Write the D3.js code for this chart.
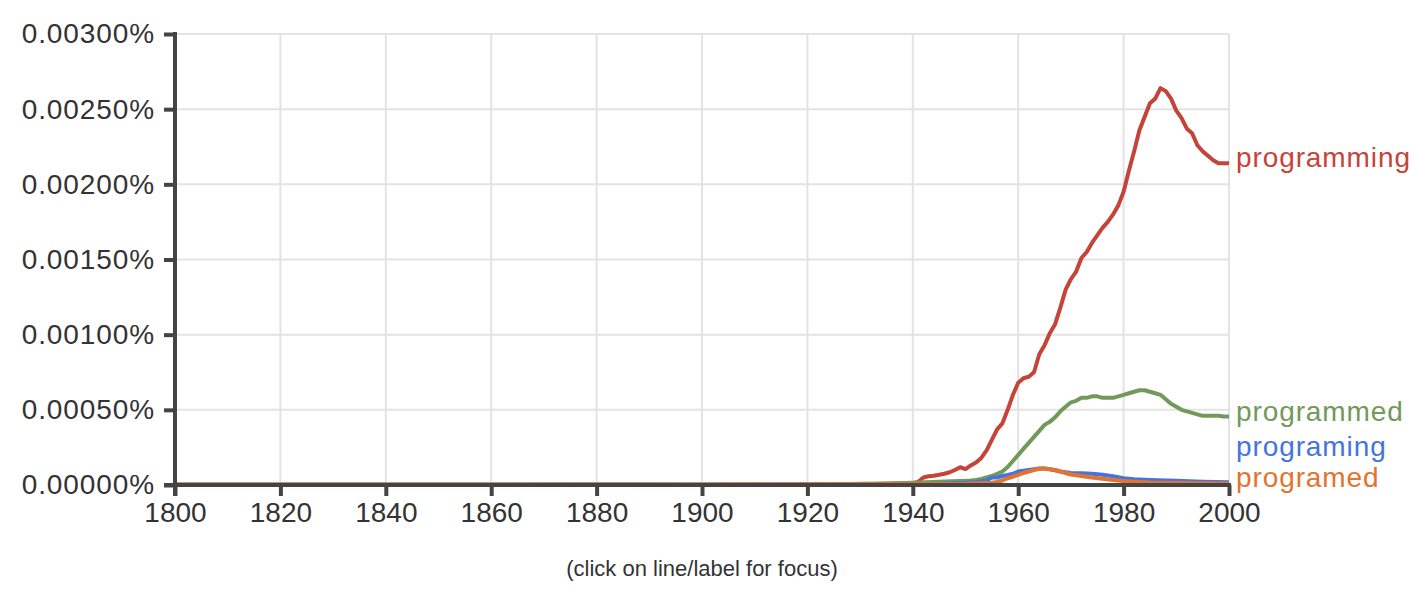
<!DOCTYPE html>
<html><head><meta charset="utf-8">
<script src="https://cdn.jsdelivr.net/npm/d3@7"></script>
<style>
body{margin:0;background:#fff;}
text{font-family:"Liberation Sans",Arial,Helvetica,sans-serif;}
</style></head>
<body><svg id="c" width="1426" height="614"></svg>
<script>
const seriesNames = ["programming","programmed","programing","programed"];
const seriesColors = ["#c5443a","#71995a","#4674dc","#e2742f"];
const xTicks = [1800,1820,1840,1860,1880,1900,1920,1940,1960,1980,2000];
const yTicks = [0,0.0005,0.001,0.0015,0.002,0.0025,0.003];
const footnote = "(click on line/label for focus)";

const programming = [[1800,0.000002],[1820,0.000002],[1840,0.000002],[1860,0.000002],[1880,0.000003],[1900,0.000002],[1920,0.000003],[1930,0.000005],[1935,0.000008],[1940,0.000012],[1941,0.00002],[1942,0.00005],[1943,0.000058],[1944,0.000062],[1945,0.000068],[1946,0.000075],[1947,0.000085],[1948,0.0001],[1949,0.000118],[1950,0.000106],[1951,0.00013],[1952,0.00015],[1953,0.00018],[1954,0.00023],[1955,0.0003],[1956,0.00037],[1957,0.00041],[1958,0.0005],[1959,0.0006],[1960,0.00068],[1961,0.00071],[1962,0.00072],[1963,0.00075],[1964,0.00087],[1965,0.00093],[1966,0.00101],[1967,0.00107],[1968,0.00118],[1969,0.0013],[1970,0.00137],[1971,0.00142],[1972,0.00151],[1973,0.00155],[1974,0.00161],[1975,0.00166],[1976,0.00171],[1977,0.00175],[1978,0.0018],[1979,0.00186],[1980,0.00195],[1981,0.00209],[1982,0.00222],[1983,0.00236],[1984,0.00245],[1985,0.00254],[1986,0.00257],[1987,0.00264],[1988,0.00262],[1989,0.00257],[1990,0.00249],[1991,0.00244],[1992,0.00237],[1993,0.00234],[1994,0.00226],[1995,0.00222],[1996,0.00219],[1997,0.00216],[1998,0.00214],[1999,0.00214],[2000,0.00214]];
const programmed = [[1800,0.000001],[1860,0.000001],[1900,0.000001],[1920,0.000001],[1925,0.000003],[1930,0.000008],[1935,0.00001],[1940,0.000015],[1945,0.000022],[1950,0.000028],[1951,0.00003],[1952,0.000034],[1953,0.00004],[1954,0.00005],[1955,0.00006],[1956,0.000075],[1957,0.00009],[1958,0.00012],[1959,0.00016],[1960,0.0002],[1961,0.00024],[1962,0.00028],[1963,0.00032],[1964,0.00036],[1965,0.0004],[1966,0.00042],[1967,0.00045],[1968,0.00049],[1969,0.00052],[1970,0.00055],[1971,0.00056],[1972,0.00058],[1973,0.00058],[1974,0.00059],[1975,0.00059],[1976,0.00058],[1977,0.00058],[1978,0.00058],[1979,0.00059],[1980,0.0006],[1981,0.00061],[1982,0.00062],[1983,0.00063],[1984,0.00063],[1985,0.00062],[1986,0.00061],[1987,0.0006],[1988,0.00057],[1989,0.00054],[1990,0.00052],[1991,0.0005],[1992,0.00049],[1993,0.00048],[1994,0.00047],[1995,0.00046],[1996,0.00046],[1997,0.00046],[1998,0.00046],[1999,0.000455],[2000,0.000455]];
const programing = [[1800,0.000001],[1900,0.000001],[1940,0.000002],[1950,0.000015],[1952,0.00002],[1954,0.00003],[1955,0.00005],[1956,0.00005],[1957,0.00006],[1958,0.000067],[1959,0.000075],[1960,0.00009],[1961,0.000095],[1962,0.0001],[1963,0.000105],[1964,0.00011],[1965,0.00011],[1966,0.000105],[1967,0.000098],[1968,0.00009],[1969,0.000085],[1970,0.00008],[1972,0.000078],[1974,0.000075],[1976,0.000068],[1978,0.000058],[1980,0.000045],[1982,0.000038],[1985,0.000033],[1990,0.000028],[1995,0.000022],[2000,0.000018]];
const programed = [[1800,0.000003],[1900,0.000003],[1950,0.000008],[1955,0.000015],[1956,0.00002],[1957,0.00003],[1958,0.000045],[1959,0.000055],[1960,0.000068],[1961,0.00008],[1962,0.00009],[1963,0.0001],[1964,0.000108],[1965,0.00011],[1966,0.000105],[1967,0.0001],[1968,0.00009],[1969,0.00008],[1970,0.00007],[1972,0.00006],[1974,0.00005],[1976,0.000042],[1978,0.000033],[1980,0.000026],[1982,0.000022],[1985,0.000017],[1990,0.000014],[1995,0.000012],[2000,0.00001]];
const seriesData = [programming, programmed, programing, programed];

const svg = d3.select("#c");
const L = 175, R = 1229, T = 34, B = 485;
const x = d3.scaleLinear().domain([1800,2000]).range([L,R]);
const y = d3.scaleLinear().domain([0,0.003]).range([B,T]);

// grid
const g = svg.append("g");
g.selectAll(".vg").data(xTicks.slice(1)).enter().append("line")
  .attr("x1",d=>x(d)).attr("x2",d=>x(d)).attr("y1",T).attr("y2",B)
  .attr("stroke","#e3e3e3").attr("stroke-width",2);
g.selectAll(".hg").data(yTicks.slice(1)).enter().append("line")
  .attr("x1",L).attr("x2",R).attr("y1",d=>y(d)).attr("y2",d=>y(d))
  .attr("stroke","#e3e3e3").attr("stroke-width",2);

// lines
const line = d3.line().x(d=>x(d[0])).y(d=>y(d[1]));
seriesData.forEach((s,i)=>{
  svg.append("path").datum(s).attr("d",line).attr("fill","none")
    .attr("stroke",seriesColors[i]).attr("stroke-width",4).attr("stroke-linejoin","round");
});

// axes
const yAxis = d3.axisLeft(y).tickValues(yTicks).tickSize(11).tickPadding(9)
  .tickFormat(d=>d3.format(".5f")(d)+"%");
const ya = svg.append("g").attr("transform",`translate(${L},0)`).call(yAxis);
const xAxis = d3.axisBottom(x).tickValues(xTicks).tickSize(11).tickPadding(6).tickFormat(d3.format("d"));
const xa = svg.append("g").attr("transform",`translate(0,${B})`).call(xAxis);
[ya,xa].forEach(a=>{
  a.select(".domain").remove();
  a.selectAll(".tick line").attr("stroke","#444").attr("stroke-width",4);
  a.selectAll(".tick text").attr("fill","#333").attr("font-size",28)
    .attr("font-family","'Liberation Sans',Arial,sans-serif");
});
ya.selectAll(".tick text").attr("letter-spacing","0.9px");
svg.append("line").attr("x1",L).attr("x2",L).attr("y1",T-2).attr("y2",B+11)
  .attr("stroke","#444").attr("stroke-width",4);
svg.append("line").attr("x1",L-11).attr("x2",R+2).attr("y1",B).attr("y2",B)
  .attr("stroke","#444").attr("stroke-width",4);

// end labels with collision avoidance
const ends = seriesData.map((s,i)=>({i, yy: y(s[s.length-1][1]) + 4}));
ends.sort((a,b)=>b.yy-a.yy);
for(let k=1;k<ends.length;k++){
  if(ends[k-1].yy - ends[k].yy < 31) ends[k].yy = ends[k-1].yy - 31;
}
ends.forEach(e=>{
  svg.append("text").attr("x",R+7).attr("y",e.yy).text(seriesNames[e.i])
    .attr("fill",seriesColors[e.i]).attr("font-size",28).attr("letter-spacing","0.9px");
});

svg.append("text").attr("x",(L+R)/2).attr("y",576).attr("text-anchor","middle")
  .attr("font-size",22).attr("fill","#333").text(footnote);
</script></body></html>
